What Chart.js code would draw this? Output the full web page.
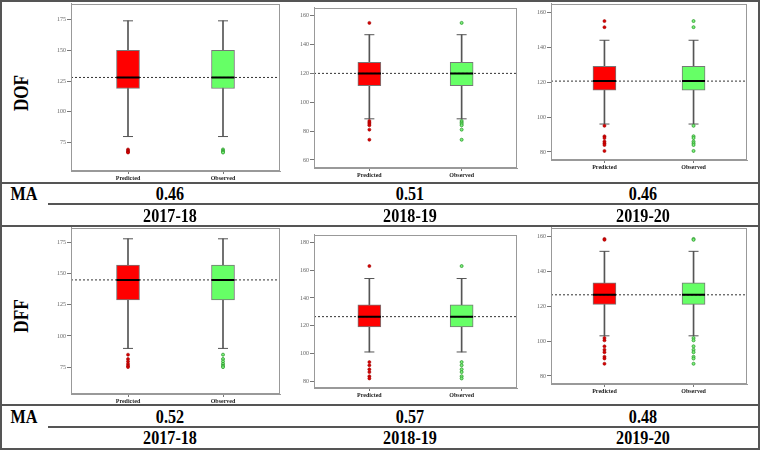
<!DOCTYPE html>
<html>
<head>
<meta charset="utf-8">
<script src="https://cdn.jsdelivr.net/npm/chart.js@4.4.0/dist/chart.umd.min.js"></script>
<style>
  body { margin: 0; background: #fff; }
  #fig { position: relative; width: 760px; height: 450px; overflow: hidden; font-family: "Liberation Serif", "Times New Roman", serif; }
  .hl { position: absolute; height: 2px; background: #555; }
  .vl { position: absolute; width: 2px; background: #555; }
  .txt { position: absolute; transform: translate(-50%, -50%) scale(0.95, 1.15); font-weight: bold; font-size: 17px; line-height: 1; white-space: nowrap; color: #000; }
  .rot { transform: translate(-50%, -50%) rotate(-90deg) scale(0.95, 1.15); font-size: 18px; }
  canvas { position: absolute; }
</style>
</head>
<body>
<div id="fig">
  <div class="vl" style="left:0;top:0;height:450px"></div>
  <div class="vl" style="left:758px;top:0;height:450px"></div>
  <div class="hl" style="left:0;top:0;width:760px"></div>
  <div class="hl" style="left:0;top:182px;width:760px"></div>
  <div class="hl" style="left:48px;top:203px;width:712px"></div>
  <div class="hl" style="left:0;top:225px;width:760px"></div>
  <div class="hl" style="left:0;top:404px;width:760px"></div>
  <div class="hl" style="left:48px;top:426px;width:712px"></div>
  <div class="hl" style="left:0;top:448px;width:760px"></div>
</div>
<script>
const groups = ["Predicted", "Observed"];
const years = ["2017-18", "2018-19", "2019-20"];
const rows = ["DOF", "DFF"];
const maDOF = [0.46, 0.51, 0.46];
const maDFF = [0.52, 0.57, 0.48];

// [lower whisker, Q1, median, Q3, upper whisker] (predicted and observed look the same)
const dofBoxes = [
  [80, 119, 128, 150, 174],
  [88.5, 111.5, 120, 127.6, 146.8],
  [96, 115.4, 120.6, 129, 144],
];
const dffBoxes = [
  [90, 129, 145, 157, 178],
  [101, 119, 126.5, 135, 154],
  [103, 121, 126.5, 133.4, 151.4],
];
const dofMeans = [128, 120, 120.6];
const dffMeans = [145, 126.5, 126.5];

const dofOutliers = [
  [69.5, 68.5, 67.5, 67],
  [155, 87, 86, 85, 84, 81, 74],
  [155, 151.5, 95, 89, 88, 86, 85, 84, 80.6],
];
const dffOutliers = [
  [85, 81.5, 79.5, 77.5, 76, 75],
  [163, 93.7, 91.4, 88.5, 86.5, 83.5, 81.9],
  [158.5, 158, 101.7, 100.4, 97, 95, 93.6, 91, 90, 87],
];

const dofTicks = [[75, 100, 125, 150, 175], [60, 80, 100, 120, 140, 160], [80, 100, 120, 140, 160]];
const dffTicks = [[75, 100, 125, 150, 175], [80, 100, 120, 140, 160, 180], [80, 100, 120, 140, 160]];
const dofRanges = [[52, 188], [54.4, 165.6], [75.4, 165]];
const dffRanges = [[53.4, 187], [75, 185.7], [75.4, 165]];

// layout: plot area [left, top, right, bottom] of each panel
const areas = {
  DOF: [[71, 3, 280, 171], [314, 7, 517, 168], [551, 3, 747, 160]],
  DFF: [[71, 227, 280, 394], [314, 234, 517, 388], [551, 227, 747, 384]],
};
const colX = [170, 410, 643];
const X_MIN = 0.4, X_MAX = 2.6;
const FONT = "Liberation Serif";

const fig = document.getElementById("fig");

const frame = {
  id: "frame",
  afterDraw(chart) {
    const a = chart.chartArea, ctx = chart.ctx;
    ctx.save();
    ctx.strokeStyle = "#999";
    ctx.lineWidth = 1;
    ctx.strokeRect(Math.round(a.left) + 0.5, Math.round(a.top) + 0.5,
      Math.round(a.right - a.left) - 1, Math.round(a.bottom - a.top) - 1);
    ctx.restore();
  },
};

function addText(txt, x, y, cls) {
  const d = document.createElement("div");
  d.className = "txt" + (cls ? " " + cls : "");
  d.style.left = x + "px";
  d.style.top = y + "px";
  d.textContent = txt;
  fig.appendChild(d);
}

function addChart(area, box, mean, outl, ticks, range) {
  const [l, t, r, b] = area;
  const c = document.createElement("canvas");
  const w = r - l + 34, h = b - t + 16;
  c.width = w; c.height = h;
  c.style.left = (l - 30) + "px";
  c.style.top = (t - 4) + "px";
  c.style.width = w + "px";
  c.style.height = h + "px";
  fig.appendChild(c);
  const xs = [1, 2];
  const boxW = 23;

  new Chart(c, {
    data: {
      datasets: [
        {
          type: "line", data: outl.map((v) => ({ x: 1, y: v })), showLine: false,
          pointRadius: 1.5, pointBackgroundColor: "#d80000", pointBorderColor: "#a00000",
          pointBorderWidth: 0.6, order: 0,
        },
        {
          type: "line", data: outl.map((v) => ({ x: 2, y: v })), showLine: false,
          pointRadius: 1.5, pointBackgroundColor: "#7cf07c", pointBorderColor: "#2f9a2f",
          pointBorderWidth: 0.8, order: 0,
        },
        {
          type: "line", data: xs.map((x) => ({ x, y: box[2] })), showLine: false,
          pointStyle: "line", pointRadius: boxW / 2, pointBorderColor: "#000",
          pointBorderWidth: 2, order: 1,
        },
        {
          type: "line", data: [{ x: X_MIN, y: mean }, { x: X_MAX, y: mean }],
          borderColor: "#333", borderWidth: 1, borderDash: [2, 2], pointRadius: 0, order: 2,
        },
        {
          type: "line", data: xs.flatMap((x) => [{ x, y: box[0] }, { x, y: box[4] }]), showLine: false,
          pointStyle: "line", pointRadius: 5, pointBorderColor: "#555", pointBorderWidth: 1, order: 3,
        },
        {
          type: "bar", data: xs.map((x) => ({ x, y: [box[1], box[3]] })),
          backgroundColor: ["#ff0000", "#66ff66"], borderColor: "#777", borderWidth: 1,
          borderSkipped: false, barThickness: boxW, grouped: false, order: 4,
        },
        {
          type: "bar", data: xs.map((x) => ({ x, y: [box[0], box[4]] })),
          backgroundColor: "#555", barThickness: 1, grouped: false, order: 5,
        },
      ],
    },
    options: {
      responsive: false,
      animation: false,
      devicePixelRatio: 1,
      layout: { padding: { top: 4, right: 4, left: 0, bottom: 0 }, autoPadding: false },
      plugins: { legend: { display: false }, tooltip: { enabled: false } },
      scales: {
        x: {
          type: "linear", min: X_MIN, max: X_MAX, offset: false,
          afterBuildTicks: (s) => { s.ticks = xs.map((v) => ({ value: v })); },
          afterFit: (s) => { s.height = 12; },
          ticks: {
            callback: (v) => groups[v - 1],
            font: { family: FONT, size: 6, weight: "bold" }, color: "#222",
            padding: 1, maxRotation: 0, autoSkip: false,
          },
          grid: { drawOnChartArea: false, tickLength: 3, color: "#777", offset: false },
          border: { color: "#999" },
        },
        y: {
          min: range[0], max: range[1],
          afterBuildTicks: (s) => { s.ticks = ticks.map((v) => ({ value: v })); },
          afterFit: (s) => { s.width = 30; },
          ticks: { font: { family: FONT, size: 6 }, color: "#666", padding: 1 },
          grid: { drawOnChartArea: false, tickLength: 4, color: "#777" },
          border: { color: "#999" },
        },
      },
    },
    plugins: [frame],
  });
}

for (let i = 0; i < 3; i++) {
  addChart(areas.DOF[i], dofBoxes[i], dofMeans[i], dofOutliers[i], dofTicks[i], dofRanges[i]);
  addChart(areas.DFF[i], dffBoxes[i], dffMeans[i], dffOutliers[i], dffTicks[i], dffRanges[i]);
}

// table text
addText(rows[0], 21, 93, "rot");
addText(rows[1], 21, 316, "rot");
addText("MA", 24, 194);
addText("MA", 24, 417);
years.forEach((y, i) => {
  addText(maDOF[i].toFixed(2), colX[i], 194);
  addText(y, colX[i], 216);
  addText(maDFF[i].toFixed(2), colX[i], 417);
  addText(y, colX[i], 438);
});
</script>
</body>
</html>
